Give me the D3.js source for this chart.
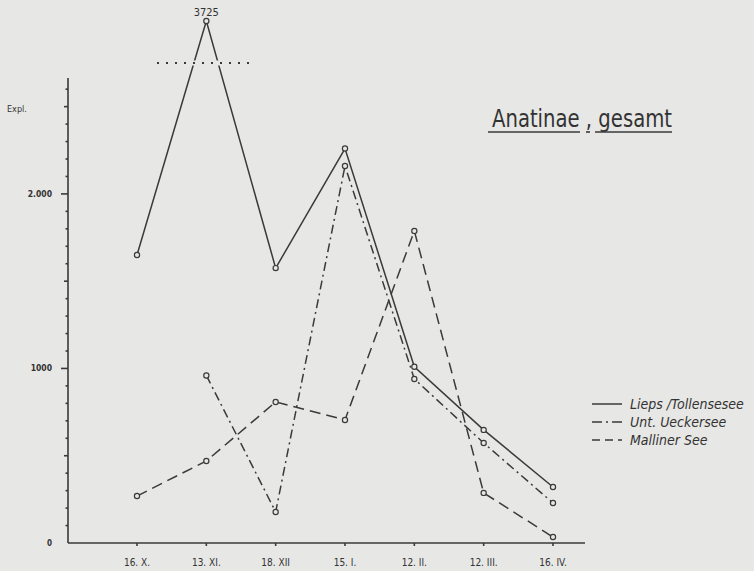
<!DOCTYPE html>
<html>
<head>
<meta charset="utf-8">
<script src="https://cdn.jsdelivr.net/npm/d3@7"></script>
<style>
  html, body { margin: 0; padding: 0; background: #e7e7e5; }
  svg { display: block; }
  text { fill: #333; }
</style>
</head>
<body>
<svg id="chart" width="754" height="571"></svg>
<script>
const dates = ["16. X.", "13. XI.", "18. XII", "15. I.", "12. II.", "12. III.", "16. IV."];
const lieps = [1650, 3725, 1575, 2260, 1010, 648, 321];
const ueckersee = [null, 960, 178, 2160, 940, 573, 229];
const malliner = [269, 470, 808, 705, 1788, 287, 34];
const seriesNames = ["Lieps /Tollensesee", "Unt. Ueckersee", "Malliner See"];
const yLabels = [0, 1000, 2000];

const bg = "#e7e7e5";
const ink = "#3a3a3a";
const breakValue = 2750;

const svg = d3.select("#chart");

// x positions of the sampling dates
const x = d3.scalePoint().domain(dates).range([137, 553]);
// broken axis: compressed above the break line
const y = d3.scaleLinear().domain([0, breakValue, 3725]).range([543, 63, 21]);

// y axis with small ticks
svg.append("line")
  .attr("x1", 68).attr("x2", 68).attr("y1", 78).attr("y2", y(0))
  .attr("stroke", ink).attr("stroke-width", 1.6);

d3.range(100, 2700, 100).forEach((v) => {
  const len = v % 1000 === 0 ? 7 : v % 500 === 0 ? 4 : 2.5;
  svg.append("line")
    .attr("x1", 68 - len).attr("x2", 68)
    .attr("y1", y(v)).attr("y2", y(v))
    .attr("stroke", ink).attr("stroke-width", 1.6);
});

yLabels.forEach((v) => {
  svg.append("text")
    .attr("x", 52).attr("y", y(v) + 3)
    .attr("text-anchor", "end")
    .attr("font-family", "DejaVu Sans Condensed, sans-serif")
    .attr("font-size", v === 0 ? 8 : 8.5)
    .attr("font-weight", "bold")
    .text(v === 2000 ? "2.000" : v);
});

svg.append("text")
  .attr("x", 7).attr("y", 112)
  .attr("font-family", "DejaVu Sans Condensed, sans-serif")
  .attr("font-size", 9)
  .text("Expl.");

// x axis
svg.append("line")
  .attr("x1", 68).attr("x2", 585).attr("y1", y(0)).attr("y2", y(0))
  .attr("stroke", ink).attr("stroke-width", 1.4);

dates.forEach((d) => {
  svg.append("line")
    .attr("x1", x(d)).attr("x2", x(d))
    .attr("y1", y(0)).attr("y2", y(0) + 3)
    .attr("stroke", ink).attr("stroke-width", 1.6);
  svg.append("text")
    .attr("x", x(d)).attr("y", 566)
    .attr("text-anchor", "middle")
    .attr("font-family", "Liberation Sans Narrow, DejaVu Sans Condensed, sans-serif")
    .attr("font-size", 10)
    .text(d);
});

// series
const series = [
  { name: seriesNames[0], values: lieps, dash: null },
  { name: seriesNames[1], values: ueckersee, dash: "9,4,2,4" },
  { name: seriesNames[2], values: malliner, dash: "11,6" },
];

const line = d3.line()
  .defined((d) => d.v !== null)
  .x((d) => x(d.date))
  .y((d) => y(d.v));

series.forEach((s) => {
  const pts = s.values.map((v, i) => ({ date: dates[i], v }));
  svg.append("path")
    .datum(pts)
    .attr("d", line)
    .attr("fill", "none")
    .attr("stroke", ink)
    .attr("stroke-width", 1.5)
    .attr("stroke-dasharray", s.dash);
  svg.selectAll(null)
    .data(pts.filter((d) => d.v !== null))
    .enter()
    .append("circle")
    .attr("cx", (d) => x(d.date))
    .attr("cy", (d) => y(d.v))
    .attr("r", 2.6)
    .attr("fill", bg)
    .attr("stroke", ink)
    .attr("stroke-width", 1.2);
});

// break line over the peak
svg.append("rect")
  .attr("x", 150).attr("y", y(breakValue) - 2.5)
  .attr("width", 110).attr("height", 5)
  .attr("fill", bg);
svg.append("line")
  .attr("x1", 157).attr("x2", 255)
  .attr("y1", y(breakValue)).attr("y2", y(breakValue))
  .attr("stroke", ink).attr("stroke-width", 1.8)
  .attr("stroke-dasharray", "2,7");

svg.append("text")
  .attr("x", x(dates[1])).attr("y", 16)
  .attr("text-anchor", "middle")
  .attr("font-family", "Liberation Sans Narrow, DejaVu Sans Condensed, sans-serif")
  .attr("font-size", 11)
  .text("3725");

// title
const title = svg.append("text")
  .attr("x", 492).attr("y", 127)
  .attr("font-family", "Liberation Sans Narrow, DejaVu Sans Condensed, sans-serif")
  .attr("font-size", 25)
  .attr("textLength", 180)
  .attr("lengthAdjust", "spacingAndGlyphs")
  .text("Anatinae , gesamt");
[[488, 580], [586, 590], [595, 672]].forEach(([a, b]) => {
  svg.append("line")
    .attr("x1", a).attr("x2", b).attr("y1", 132).attr("y2", 132)
    .attr("stroke", ink).attr("stroke-width", 1.6);
});

// legend
series.forEach((s, i) => {
  const ly = 404 + i * 18;
  svg.append("line")
    .attr("x1", 592).attr("x2", 622).attr("y1", ly).attr("y2", ly)
    .attr("stroke", ink).attr("stroke-width", 1.5)
    .attr("stroke-dasharray", i === 0 ? null : i === 1 ? "10,4,2,4" : "8,5");
  svg.append("text")
    .attr("x", 630).attr("y", ly + 5)
    .attr("font-family", "Liberation Sans Narrow, DejaVu Sans Condensed, sans-serif")
    .attr("font-style", "italic")
    .attr("font-size", 14)
    .text(s.name);
});
</script>
</body>
</html>
